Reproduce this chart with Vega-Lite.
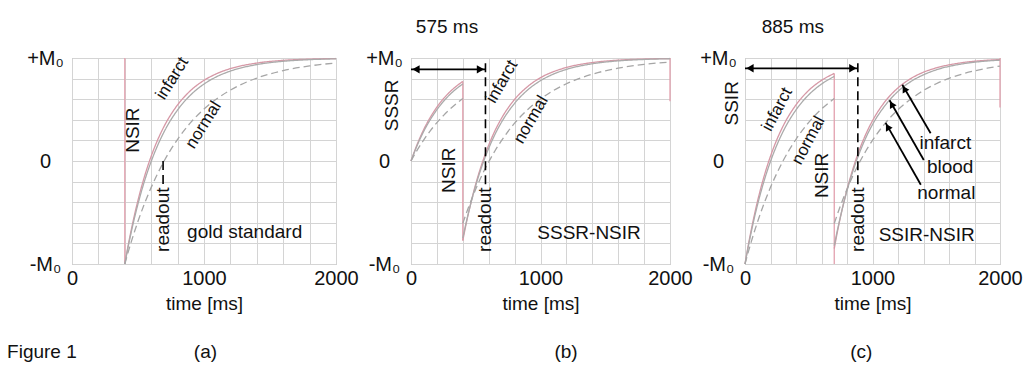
{
  "$schema": "https://vega.github.io/schema/vega-lite/v6.json",
  "background": "white",
  "padding": {"left": 6, "top": 17, "right": 0, "bottom": 0},
  "config": {
    "font": "Liberation Sans",
    "view": {"stroke": "#a8a8a8", "strokeWidth": 1},
    "axis": {"grid": true, "gridColor": "#d4d4d4", "gridWidth": 1, "domain": false, "ticks": false, "labelFontSize": 20, "labelColor": "#111", "titleFontSize": 19, "titleFontWeight": "normal", "titleColor": "#111", "labelFlush": false, "labelOverlap": false},
    "axisX": {"labelPadding": 4, "titlePadding": 6},
    "axisY": {"labelPadding": 27, "labelAlign": "center", "labelBaseline": "middle"}
  },
  "datasets": {
    "curves": [
      {"p":"a","k":"infarct","g":"ai","t":400,"m":-1},{"p":"a","k":"infarct","g":"ai","t":425,"m":-0.823},{"p":"a","k":"infarct","g":"ai","t":450,"m":-0.662},{"p":"a","k":"infarct","g":"ai","t":475,"m":-0.515},{"p":"a","k":"infarct","g":"ai","t":500,"m":-0.381},{"p":"a","k":"infarct","g":"ai","t":550,"m":-0.147},{"p":"a","k":"infarct","g":"ai","t":600,"m":0.047},{"p":"a","k":"infarct","g":"ai","t":650,"m":0.208},{"p":"a","k":"infarct","g":"ai","t":700,"m":0.342},{"p":"a","k":"infarct","g":"ai","t":800,"m":0.545},{"p":"a","k":"infarct","g":"ai","t":900,"m":0.686},{"p":"a","k":"infarct","g":"ai","t":1000,"m":0.783},{"p":"a","k":"infarct","g":"ai","t":1100,"m":0.85},{"p":"a","k":"infarct","g":"ai","t":1200,"m":0.897},{"p":"a","k":"infarct","g":"ai","t":1400,"m":0.951},{"p":"a","k":"infarct","g":"ai","t":1600,"m":0.977},{"p":"a","k":"infarct","g":"ai","t":1800,"m":0.989},{"p":"a","k":"infarct","g":"ai","t":2000,"m":0.995},
      {"p":"a","k":"blood","g":"ab","t":400,"m":-1},{"p":"a","k":"blood","g":"ab","t":425,"m":-0.835},{"p":"a","k":"blood","g":"ab","t":450,"m":-0.684},{"p":"a","k":"blood","g":"ab","t":475,"m":-0.544},{"p":"a","k":"blood","g":"ab","t":500,"m":-0.417},{"p":"a","k":"blood","g":"ab","t":550,"m":-0.192},{"p":"a","k":"blood","g":"ab","t":600,"m":-0.004},{"p":"a","k":"blood","g":"ab","t":650,"m":0.155},{"p":"a","k":"blood","g":"ab","t":700,"m":0.289},{"p":"a","k":"blood","g":"ab","t":800,"m":0.496},{"p":"a","k":"blood","g":"ab","t":900,"m":0.643},{"p":"a","k":"blood","g":"ab","t":1000,"m":0.747},{"p":"a","k":"blood","g":"ab","t":1100,"m":0.821},{"p":"a","k":"blood","g":"ab","t":1200,"m":0.873},{"p":"a","k":"blood","g":"ab","t":1400,"m":0.936},{"p":"a","k":"blood","g":"ab","t":1600,"m":0.968},{"p":"a","k":"blood","g":"ab","t":1800,"m":0.984},{"p":"a","k":"blood","g":"ab","t":2000,"m":0.992},
      {"p":"a","k":"normal","g":"an","t":400,"m":-1},{"p":"a","k":"normal","g":"an","t":425,"m":-0.887},{"p":"a","k":"normal","g":"an","t":450,"m":-0.78},{"p":"a","k":"normal","g":"an","t":475,"m":-0.68},{"p":"a","k":"normal","g":"an","t":500,"m":-0.585},{"p":"a","k":"normal","g":"an","t":550,"m":-0.411},{"p":"a","k":"normal","g":"an","t":600,"m":-0.256},{"p":"a","k":"normal","g":"an","t":650,"m":-0.119},{"p":"a","k":"normal","g":"an","t":700,"m":0.005},{"p":"a","k":"normal","g":"an","t":800,"m":0.211},{"p":"a","k":"normal","g":"an","t":900,"m":0.375},{"p":"a","k":"normal","g":"an","t":1000,"m":0.504},{"p":"a","k":"normal","g":"an","t":1100,"m":0.607},{"p":"a","k":"normal","g":"an","t":1200,"m":0.689},{"p":"a","k":"normal","g":"an","t":1400,"m":0.805},{"p":"a","k":"normal","g":"an","t":1600,"m":0.877},{"p":"a","k":"normal","g":"an","t":1800,"m":0.923},{"p":"a","k":"normal","g":"an","t":2000,"m":0.952},

      {"p":"b","k":"infarct","g":"bi1","t":0,"m":0},{"p":"b","k":"infarct","g":"bi1","t":50,"m":0.169},{"p":"b","k":"infarct","g":"bi1","t":100,"m":0.31},{"p":"b","k":"infarct","g":"bi1","t":150,"m":0.426},{"p":"b","k":"infarct","g":"bi1","t":200,"m":0.523},{"p":"b","k":"infarct","g":"bi1","t":250,"m":0.604},{"p":"b","k":"infarct","g":"bi1","t":300,"m":0.671},{"p":"b","k":"infarct","g":"bi1","t":350,"m":0.726},{"p":"b","k":"infarct","g":"bi1","t":400,"m":0.773},
      {"p":"b","k":"blood","g":"bb1","t":0,"m":0},{"p":"b","k":"blood","g":"bb1","t":50,"m":0.158},{"p":"b","k":"blood","g":"bb1","t":100,"m":0.292},{"p":"b","k":"blood","g":"bb1","t":150,"m":0.404},{"p":"b","k":"blood","g":"bb1","t":200,"m":0.498},{"p":"b","k":"blood","g":"bb1","t":250,"m":0.578},{"p":"b","k":"blood","g":"bb1","t":300,"m":0.645},{"p":"b","k":"blood","g":"bb1","t":350,"m":0.701},{"p":"b","k":"blood","g":"bb1","t":400,"m":0.748},
      {"p":"b","k":"normal","g":"bn1","t":0,"m":0},{"p":"b","k":"normal","g":"bn1","t":50,"m":0.11},{"p":"b","k":"normal","g":"bn1","t":100,"m":0.208},{"p":"b","k":"normal","g":"bn1","t":150,"m":0.295},{"p":"b","k":"normal","g":"bn1","t":200,"m":0.372},{"p":"b","k":"normal","g":"bn1","t":250,"m":0.441},{"p":"b","k":"normal","g":"bn1","t":300,"m":0.502},{"p":"b","k":"normal","g":"bn1","t":350,"m":0.557},{"p":"b","k":"normal","g":"bn1","t":400,"m":0.606},
      {"p":"b","k":"infarct","g":"bi2","t":400,"m":-0.773},{"p":"b","k":"infarct","g":"bi2","t":425,"m":-0.616},{"p":"b","k":"infarct","g":"bi2","t":450,"m":-0.473},{"p":"b","k":"infarct","g":"bi2","t":475,"m":-0.342},{"p":"b","k":"infarct","g":"bi2","t":500,"m":-0.223},{"p":"b","k":"infarct","g":"bi2","t":550,"m":-0.018},{"p":"b","k":"infarct","g":"bi2","t":600,"m":0.154},{"p":"b","k":"infarct","g":"bi2","t":650,"m":0.298},{"p":"b","k":"infarct","g":"bi2","t":700,"m":0.417},{"p":"b","k":"infarct","g":"bi2","t":800,"m":0.598},{"p":"b","k":"infarct","g":"bi2","t":900,"m":0.722},{"p":"b","k":"infarct","g":"bi2","t":1000,"m":0.809},{"p":"b","k":"infarct","g":"bi2","t":1100,"m":0.867},{"p":"b","k":"infarct","g":"bi2","t":1200,"m":0.908},{"p":"b","k":"infarct","g":"bi2","t":1400,"m":0.956},{"p":"b","k":"infarct","g":"bi2","t":1600,"m":0.979},{"p":"b","k":"infarct","g":"bi2","t":1800,"m":0.99},{"p":"b","k":"infarct","g":"bi2","t":2000,"m":0.995},
      {"p":"b","k":"blood","g":"bb2","t":400,"m":-0.748},{"p":"b","k":"blood","g":"bb2","t":425,"m":-0.603},{"p":"b","k":"blood","g":"bb2","t":450,"m":-0.472},{"p":"b","k":"blood","g":"bb2","t":475,"m":-0.349},{"p":"b","k":"blood","g":"bb2","t":500,"m":-0.238},{"p":"b","k":"blood","g":"bb2","t":550,"m":-0.042},{"p":"b","k":"blood","g":"bb2","t":600,"m":0.123},{"p":"b","k":"blood","g":"bb2","t":650,"m":0.262},{"p":"b","k":"blood","g":"bb2","t":700,"m":0.379},{"p":"b","k":"blood","g":"bb2","t":800,"m":0.56},{"p":"b","k":"blood","g":"bb2","t":900,"m":0.689},{"p":"b","k":"blood","g":"bb2","t":1000,"m":0.78},{"p":"b","k":"blood","g":"bb2","t":1100,"m":0.844},{"p":"b","k":"blood","g":"bb2","t":1200,"m":0.889},{"p":"b","k":"blood","g":"bb2","t":1400,"m":0.944},{"p":"b","k":"blood","g":"bb2","t":1600,"m":0.972},{"p":"b","k":"blood","g":"bb2","t":1800,"m":0.986},{"p":"b","k":"blood","g":"bb2","t":2000,"m":0.993},
      {"p":"b","k":"normal","g":"bn2","t":400,"m":-0.606},{"p":"b","k":"normal","g":"bn2","t":425,"m":-0.515},{"p":"b","k":"normal","g":"bn2","t":450,"m":-0.429},{"p":"b","k":"normal","g":"bn2","t":475,"m":-0.349},{"p":"b","k":"normal","g":"bn2","t":500,"m":-0.273},{"p":"b","k":"normal","g":"bn2","t":550,"m":-0.132},{"p":"b","k":"normal","g":"bn2","t":600,"m":-0.009},{"p":"b","k":"normal","g":"bn2","t":650,"m":0.102},{"p":"b","k":"normal","g":"bn2","t":700,"m":0.2},{"p":"b","k":"normal","g":"bn2","t":800,"m":0.367},{"p":"b","k":"normal","g":"bn2","t":900,"m":0.498},{"p":"b","k":"normal","g":"bn2","t":1000,"m":0.602},{"p":"b","k":"normal","g":"bn2","t":1100,"m":0.685},{"p":"b","k":"normal","g":"bn2","t":1200,"m":0.75},{"p":"b","k":"normal","g":"bn2","t":1400,"m":0.843},{"p":"b","k":"normal","g":"bn2","t":1600,"m":0.901},{"p":"b","k":"normal","g":"bn2","t":1800,"m":0.938},{"p":"b","k":"normal","g":"bn2","t":2000,"m":0.961},

      {"p":"c","k":"infarct","g":"ci1","t":0,"m":-1},{"p":"c","k":"infarct","g":"ci1","t":25,"m":-0.823},{"p":"c","k":"infarct","g":"ci1","t":50,"m":-0.662},{"p":"c","k":"infarct","g":"ci1","t":75,"m":-0.515},{"p":"c","k":"infarct","g":"ci1","t":100,"m":-0.381},{"p":"c","k":"infarct","g":"ci1","t":150,"m":-0.147},{"p":"c","k":"infarct","g":"ci1","t":200,"m":0.047},{"p":"c","k":"infarct","g":"ci1","t":250,"m":0.208},{"p":"c","k":"infarct","g":"ci1","t":300,"m":0.342},{"p":"c","k":"infarct","g":"ci1","t":400,"m":0.545},{"p":"c","k":"infarct","g":"ci1","t":500,"m":0.686},{"p":"c","k":"infarct","g":"ci1","t":600,"m":0.783},{"p":"c","k":"infarct","g":"ci1","t":700,"m":0.85},
      {"p":"c","k":"blood","g":"cb1","t":0,"m":-1},{"p":"c","k":"blood","g":"cb1","t":25,"m":-0.835},{"p":"c","k":"blood","g":"cb1","t":50,"m":-0.684},{"p":"c","k":"blood","g":"cb1","t":75,"m":-0.544},{"p":"c","k":"blood","g":"cb1","t":100,"m":-0.417},{"p":"c","k":"blood","g":"cb1","t":150,"m":-0.192},{"p":"c","k":"blood","g":"cb1","t":200,"m":-0.004},{"p":"c","k":"blood","g":"cb1","t":250,"m":0.155},{"p":"c","k":"blood","g":"cb1","t":300,"m":0.289},{"p":"c","k":"blood","g":"cb1","t":400,"m":0.496},{"p":"c","k":"blood","g":"cb1","t":500,"m":0.643},{"p":"c","k":"blood","g":"cb1","t":600,"m":0.747},{"p":"c","k":"blood","g":"cb1","t":700,"m":0.821},
      {"p":"c","k":"normal","g":"cn1","t":0,"m":-1},{"p":"c","k":"normal","g":"cn1","t":25,"m":-0.887},{"p":"c","k":"normal","g":"cn1","t":50,"m":-0.78},{"p":"c","k":"normal","g":"cn1","t":75,"m":-0.68},{"p":"c","k":"normal","g":"cn1","t":100,"m":-0.585},{"p":"c","k":"normal","g":"cn1","t":150,"m":-0.411},{"p":"c","k":"normal","g":"cn1","t":200,"m":-0.256},{"p":"c","k":"normal","g":"cn1","t":250,"m":-0.119},{"p":"c","k":"normal","g":"cn1","t":300,"m":0.005},{"p":"c","k":"normal","g":"cn1","t":400,"m":0.211},{"p":"c","k":"normal","g":"cn1","t":500,"m":0.375},{"p":"c","k":"normal","g":"cn1","t":600,"m":0.504},{"p":"c","k":"normal","g":"cn1","t":700,"m":0.607},
      {"p":"c","k":"infarct","g":"ci2","t":700,"m":-0.85},{"p":"c","k":"infarct","g":"ci2","t":725,"m":-0.686},{"p":"c","k":"infarct","g":"ci2","t":750,"m":-0.537},{"p":"c","k":"infarct","g":"ci2","t":775,"m":-0.4},{"p":"c","k":"infarct","g":"ci2","t":800,"m":-0.277},{"p":"c","k":"infarct","g":"ci2","t":850,"m":-0.062},{"p":"c","k":"infarct","g":"ci2","t":900,"m":0.118},{"p":"c","k":"infarct","g":"ci2","t":950,"m":0.267},{"p":"c","k":"infarct","g":"ci2","t":1000,"m":0.391},{"p":"c","k":"infarct","g":"ci2","t":1100,"m":0.58},{"p":"c","k":"infarct","g":"ci2","t":1200,"m":0.71},{"p":"c","k":"infarct","g":"ci2","t":1300,"m":0.8},{"p":"c","k":"infarct","g":"ci2","t":1400,"m":0.862},{"p":"c","k":"infarct","g":"ci2","t":1500,"m":0.904},{"p":"c","k":"infarct","g":"ci2","t":1700,"m":0.954},{"p":"c","k":"infarct","g":"ci2","t":1900,"m":0.978},{"p":"c","k":"infarct","g":"ci2","t":2000,"m":0.985},
      {"p":"c","k":"blood","g":"cb2","t":700,"m":-0.821},{"p":"c","k":"blood","g":"cb2","t":725,"m":-0.67},{"p":"c","k":"blood","g":"cb2","t":750,"m":-0.533},{"p":"c","k":"blood","g":"cb2","t":775,"m":-0.406},{"p":"c","k":"blood","g":"cb2","t":800,"m":-0.289},{"p":"c","k":"blood","g":"cb2","t":850,"m":-0.085},{"p":"c","k":"blood","g":"cb2","t":900,"m":0.086},{"p":"c","k":"blood","g":"cb2","t":950,"m":0.232},{"p":"c","k":"blood","g":"cb2","t":1000,"m":0.354},{"p":"c","k":"blood","g":"cb2","t":1100,"m":0.541},{"p":"c","k":"blood","g":"cb2","t":1200,"m":0.676},{"p":"c","k":"blood","g":"cb2","t":1300,"m":0.771},{"p":"c","k":"blood","g":"cb2","t":1400,"m":0.837},{"p":"c","k":"blood","g":"cb2","t":1500,"m":0.885},{"p":"c","k":"blood","g":"cb2","t":1700,"m":0.942},{"p":"c","k":"blood","g":"cb2","t":1900,"m":0.971},{"p":"c","k":"blood","g":"cb2","t":2000,"m":0.979},
      {"p":"c","k":"normal","g":"cn2","t":700,"m":-0.607},{"p":"c","k":"normal","g":"cn2","t":725,"m":-0.516},{"p":"c","k":"normal","g":"cn2","t":750,"m":-0.43},{"p":"c","k":"normal","g":"cn2","t":775,"m":-0.35},{"p":"c","k":"normal","g":"cn2","t":800,"m":-0.274},{"p":"c","k":"normal","g":"cn2","t":850,"m":-0.133},{"p":"c","k":"normal","g":"cn2","t":900,"m":-0.009},{"p":"c","k":"normal","g":"cn2","t":950,"m":0.102},{"p":"c","k":"normal","g":"cn2","t":1000,"m":0.2},{"p":"c","k":"normal","g":"cn2","t":1100,"m":0.367},{"p":"c","k":"normal","g":"cn2","t":1200,"m":0.498},{"p":"c","k":"normal","g":"cn2","t":1300,"m":0.601},{"p":"c","k":"normal","g":"cn2","t":1400,"m":0.685},{"p":"c","k":"normal","g":"cn2","t":1500,"m":0.75},{"p":"c","k":"normal","g":"cn2","t":1700,"m":0.843},{"p":"c","k":"normal","g":"cn2","t":1900,"m":0.901},{"p":"c","k":"normal","g":"cn2","t":2000,"m":0.922}
    ],
    "pulses": [
      {"p":"a","t":400,"m":1,"m2":-1},
      {"p":"b","t":400,"m":0.773,"m2":-0.773},
      {"p":"b","t":2000,"m":1,"m2":0.58},
      {"p":"c","t":700,"m":0.85,"m2":-1},
      {"p":"c","t":2000,"m":1,"m2":0.52}
    ],
    "zero": [
      {"p":"a","t":0,"t2":2000},
      {"p":"b","t":0,"t2":2000},
      {"p":"c","t":0,"t2":1325},
      {"p":"c","t":1825,"t2":2000}
    ],
    "readout": [
      {"p":"a","t":690,"m":0,"m2":-0.24},
      {"p":"b","t":575,"m":0.95,"m2":-0.24},
      {"p":"c","t":885,"m":0.95,"m2":-0.24}
    ],
    "arrows": [
      {"p":"b","t":0,"t2":575,"m":0.89,"m2":0.89},
      {"p":"c","t":0,"t2":885,"m":0.9,"m2":0.9},
      {"p":"c","t":1456,"t2":1234,"m":0.27,"m2":0.74},
      {"p":"c","t":1402,"t2":1134,"m":0.01,"m2":0.59},
      {"p":"c","t":1379,"t2":1103,"m":-0.23,"m2":0.37}
    ],
    "heads": [
      {"p":"b","d":"left","t":0,"m":0.89},
      {"p":"b","d":"right","t":575,"m":0.89},
      {"p":"c","d":"left","t":0,"m":0.9},
      {"p":"c","d":"right","t":885,"m":0.9},
      {"p":"c","d":"diag","t":1234,"m":0.74},
      {"p":"c","d":"diag","t":1134,"m":0.59},
      {"p":"c","d":"diag","t":1103,"m":0.37}
    ],
    "labels": [
      {"p":"a","kind":"v","txt":"NSIR","t":464,"m":0.3},
      {"p":"a","kind":"v","txt":"readout","t":690,"m":-0.57},
      {"p":"a","kind":"d","txt":"infarct","t":760,"m":0.8},
      {"p":"a","kind":"d","txt":"normal","t":996,"m":0.35},
      {"p":"a","kind":"h","txt":"gold standard","t":1308,"m":-0.69},
      {"p":"a","kind":"h","txt":"Figure 1","t":-228,"m":-1.85},
      {"p":"a","kind":"h","txt":"(a)","t":1011,"m":-1.85},
      {"p":"b","kind":"v","txt":"SSSR","t":-147,"m":0.54},
      {"p":"b","kind":"v","txt":"NSIR","t":293,"m":-0.09},
      {"p":"b","kind":"v","txt":"readout","t":575,"m":-0.57},
      {"p":"b","kind":"d","txt":"infarct","t":703,"m":0.77},
      {"p":"b","kind":"d","txt":"normal","t":927,"m":0.4},
      {"p":"b","kind":"h","txt":"SSSR-NSIR","t":1375,"m":-0.7},
      {"p":"b","kind":"h","txt":"575 ms","t":278,"m":1.3},
      {"p":"b","kind":"h","txt":"(b)","t":1197,"m":-1.85},
      {"p":"c","kind":"v","txt":"SSIR","t":-100,"m":0.56},
      {"p":"c","kind":"v","txt":"NSIR","t":605,"m":-0.14},
      {"p":"c","kind":"v","txt":"readout","t":885,"m":-0.57},
      {"p":"c","kind":"d","txt":"infarct","t":253,"m":0.5},
      {"p":"c","kind":"d","txt":"normal","t":498,"m":0.2},
      {"p":"c","kind":"h","txt":"SSIR-NSIR","t":1425,"m":-0.72},
      {"p":"c","kind":"h","txt":"885 ms","t":375,"m":1.3},
      {"p":"c","kind":"h","txt":"(c)","t":912,"m":-1.85},
      {"p":"c","kind":"h","txt":"infarct","t":1571,"m":0.17},
      {"p":"c","kind":"h","txt":"blood","t":1609,"m":-0.06},
      {"p":"c","kind":"h","txt":"normal","t":1579,"m":-0.31}
    ]
  },
  "hconcat": [
    {
      "width": 264, "height": 206,
      "encoding": {
        "x": {"field": "t", "type": "quantitative", "scale": {"domain": [0, 2000], "nice": false, "zero": false}, "axis": {"values": [0,200,400,600,800,1000,1200,1400,1600,1800,2000], "labelExpr": "datum.value % 1000 === 0 ? '' + datum.value : ''", "title": "time [ms]"}},
        "y": {"field": "m", "type": "quantitative", "scale": {"domain": [-1, 1], "nice": false}, "axis": {"values": [-1,-0.8,-0.6,-0.4,-0.2,0,0.2,0.4,0.6,0.8,1], "labelExpr": "datum.value === 1 ? '+M₀' : datum.value === -1 ? '-M₀' : datum.value === 0 ? '0' : ''", "title": null}}
      },
      "layer": [
        {"data": {"name": "pulses"}, "transform": [{"filter": "datum.p === 'a'"}], "mark": {"type": "rule", "color": "#e3a0ae", "strokeWidth": 1.3}, "encoding": {"y2": {"field": "m2"}}},
        {"data": {"name": "curves"}, "transform": [{"filter": "datum.p === 'a'"}], "mark": {"type": "line", "strokeWidth": 1.3, "interpolate": "monotone"}, "encoding": {"detail": {"field": "g"}, "color": {"field": "k", "type": "nominal", "scale": {"domain": ["infarct","blood","normal"], "range": ["#d698a6","#ababab","#a6a6a6"]}, "legend": null}, "strokeDash": {"field": "k", "type": "nominal", "scale": {"domain": ["infarct","blood","normal"], "range": [[1,0],[1,0],[7,4]]}, "legend": null}}},
        {"data": {"name": "zero"}, "transform": [{"filter": "datum.p === 'a'"}], "mark": {"type": "rule", "color": "#000", "strokeWidth": 1.6}, "encoding": {"x2": {"field": "t2"}, "y": {"datum": 0}}},
        {"data": {"name": "readout"}, "transform": [{"filter": "datum.p === 'a'"}], "mark": {"type": "rule", "color": "#000", "strokeWidth": 1.6, "strokeDash": [9,5]}, "encoding": {"y2": {"field": "m2"}}},
        {"data": {"name": "labels"}, "transform": [{"filter": "datum.p === 'a' && datum.kind === 'v'"}], "mark": {"type": "text", "angle": 270, "fontSize": 19, "color": "#111", "baseline": "middle", "align": "center"}, "encoding": {"text": {"field": "txt"}}},
        {"data": {"name": "labels"}, "transform": [{"filter": "datum.p === 'a' && datum.kind === 'd'"}], "mark": {"type": "text", "angle": 302, "fontSize": 17, "color": "#111", "baseline": "middle", "align": "center"}, "encoding": {"text": {"field": "txt"}}},
        {"data": {"name": "labels"}, "transform": [{"filter": "datum.p === 'a' && datum.kind === 'h'"}], "mark": {"type": "text", "fontSize": 19, "color": "#111", "baseline": "middle", "align": "center"}, "encoding": {"text": {"field": "txt"}}}
      ]
    },
    {
      "width": 259, "height": 206,
      "encoding": {
        "x": {"field": "t", "type": "quantitative", "scale": {"domain": [0, 2000], "nice": false, "zero": false}, "axis": {"values": [0,200,400,600,800,1000,1200,1400,1600,1800,2000], "labelExpr": "datum.value % 1000 === 0 ? '' + datum.value : ''", "title": "time [ms]"}},
        "y": {"field": "m", "type": "quantitative", "scale": {"domain": [-1, 1], "nice": false}, "axis": {"values": [-1,-0.8,-0.6,-0.4,-0.2,0,0.2,0.4,0.6,0.8,1], "labelExpr": "datum.value === 1 ? '+M₀' : datum.value === -1 ? '-M₀' : datum.value === 0 ? '0' : ''", "title": null}}
      },
      "layer": [
        {"data": {"name": "pulses"}, "transform": [{"filter": "datum.p === 'b'"}], "mark": {"type": "rule", "color": "#e3a0ae", "strokeWidth": 1.3}, "encoding": {"y2": {"field": "m2"}}},
        {"data": {"name": "curves"}, "transform": [{"filter": "datum.p === 'b'"}], "mark": {"type": "line", "strokeWidth": 1.3, "interpolate": "monotone"}, "encoding": {"detail": {"field": "g"}, "color": {"field": "k", "type": "nominal", "scale": {"domain": ["infarct","blood","normal"], "range": ["#d698a6","#ababab","#a6a6a6"]}, "legend": null}, "strokeDash": {"field": "k", "type": "nominal", "scale": {"domain": ["infarct","blood","normal"], "range": [[1,0],[1,0],[7,4]]}, "legend": null}}},
        {"data": {"name": "zero"}, "transform": [{"filter": "datum.p === 'b'"}], "mark": {"type": "rule", "color": "#000", "strokeWidth": 1.6}, "encoding": {"x2": {"field": "t2"}, "y": {"datum": 0}}},
        {"data": {"name": "readout"}, "transform": [{"filter": "datum.p === 'b'"}], "mark": {"type": "rule", "color": "#000", "strokeWidth": 1.6, "strokeDash": [9,5]}, "encoding": {"y2": {"field": "m2"}}},
        {"data": {"name": "arrows"}, "transform": [{"filter": "datum.p === 'b'"}], "mark": {"type": "rule", "color": "#000", "strokeWidth": 1.8}, "encoding": {"x2": {"field": "t2"}, "y2": {"field": "m2"}}},
        {"data": {"name": "heads"}, "transform": [{"filter": "datum.p === 'b' && datum.d === 'left'"}], "mark": {"type": "point", "shape": "triangle-left", "filled": true, "color": "#000", "opacity": 1, "size": 70, "xOffset": 5}},
        {"data": {"name": "heads"}, "transform": [{"filter": "datum.p === 'b' && datum.d === 'right'"}], "mark": {"type": "point", "shape": "triangle-right", "filled": true, "color": "#000", "opacity": 1, "size": 70, "xOffset": -5}},
        {"data": {"name": "labels"}, "transform": [{"filter": "datum.p === 'b' && datum.kind === 'v'"}], "mark": {"type": "text", "angle": 270, "fontSize": 19, "color": "#111", "baseline": "middle", "align": "center"}, "encoding": {"text": {"field": "txt"}}},
        {"data": {"name": "labels"}, "transform": [{"filter": "datum.p === 'b' && datum.kind === 'd'"}], "mark": {"type": "text", "angle": 300, "fontSize": 17, "color": "#111", "baseline": "middle", "align": "center"}, "encoding": {"text": {"field": "txt"}}},
        {"data": {"name": "labels"}, "transform": [{"filter": "datum.p === 'b' && datum.kind === 'h'"}], "mark": {"type": "text", "fontSize": 19, "color": "#111", "baseline": "middle", "align": "center"}, "encoding": {"text": {"field": "txt"}}}
      ]
    },
    {
      "width": 255, "height": 206,
      "encoding": {
        "x": {"field": "t", "type": "quantitative", "scale": {"domain": [0, 2000], "nice": false, "zero": false}, "axis": {"values": [0,200,400,600,800,1000,1200,1400,1600,1800,2000], "labelExpr": "datum.value % 1000 === 0 ? '' + datum.value : ''", "title": "time [ms]"}},
        "y": {"field": "m", "type": "quantitative", "scale": {"domain": [-1, 1], "nice": false}, "axis": {"values": [-1,-0.8,-0.6,-0.4,-0.2,0,0.2,0.4,0.6,0.8,1], "labelExpr": "datum.value === 1 ? '+M₀' : datum.value === -1 ? '-M₀' : datum.value === 0 ? '0' : ''", "title": null}}
      },
      "layer": [
        {"data": {"name": "pulses"}, "transform": [{"filter": "datum.p === 'c'"}], "mark": {"type": "rule", "color": "#e3a0ae", "strokeWidth": 1.3}, "encoding": {"y2": {"field": "m2"}}},
        {"data": {"name": "curves"}, "transform": [{"filter": "datum.p === 'c'"}], "mark": {"type": "line", "strokeWidth": 1.3, "interpolate": "monotone"}, "encoding": {"detail": {"field": "g"}, "color": {"field": "k", "type": "nominal", "scale": {"domain": ["infarct","blood","normal"], "range": ["#d698a6","#ababab","#a6a6a6"]}, "legend": null}, "strokeDash": {"field": "k", "type": "nominal", "scale": {"domain": ["infarct","blood","normal"], "range": [[1,0],[1,0],[7,4]]}, "legend": null}}},
        {"data": {"name": "zero"}, "transform": [{"filter": "datum.p === 'c'"}], "mark": {"type": "rule", "color": "#000", "strokeWidth": 1.6}, "encoding": {"x2": {"field": "t2"}, "y": {"datum": 0}}},
        {"data": {"name": "readout"}, "transform": [{"filter": "datum.p === 'c'"}], "mark": {"type": "rule", "color": "#000", "strokeWidth": 1.6, "strokeDash": [9,5]}, "encoding": {"y2": {"field": "m2"}}},
        {"data": {"name": "arrows"}, "transform": [{"filter": "datum.p === 'c'"}], "mark": {"type": "rule", "color": "#000", "strokeWidth": 1.8}, "encoding": {"x2": {"field": "t2"}, "y2": {"field": "m2"}}},
        {"data": {"name": "heads"}, "transform": [{"filter": "datum.p === 'c' && datum.d === 'left'"}], "mark": {"type": "point", "shape": "triangle-left", "filled": true, "color": "#000", "opacity": 1, "size": 70, "xOffset": 5}},
        {"data": {"name": "heads"}, "transform": [{"filter": "datum.p === 'c' && datum.d === 'right'"}], "mark": {"type": "point", "shape": "triangle-right", "filled": true, "color": "#000", "opacity": 1, "size": 70, "xOffset": -5}},
        {"data": {"name": "heads"}, "transform": [{"filter": "datum.p === 'c' && datum.d === 'diag'"}], "mark": {"type": "point", "shape": "triangle-up", "filled": true, "color": "#000", "opacity": 1, "size": 60, "angle": 330, "xOffset": 2, "yOffset": 4}},
        {"data": {"name": "labels"}, "transform": [{"filter": "datum.p === 'c' && datum.kind === 'v'"}], "mark": {"type": "text", "angle": 270, "fontSize": 19, "color": "#111", "baseline": "middle", "align": "center"}, "encoding": {"text": {"field": "txt"}}},
        {"data": {"name": "labels"}, "transform": [{"filter": "datum.p === 'c' && datum.kind === 'd'"}], "mark": {"type": "text", "angle": 298, "fontSize": 17, "color": "#111", "baseline": "middle", "align": "center"}, "encoding": {"text": {"field": "txt"}}},
        {"data": {"name": "labels"}, "transform": [{"filter": "datum.p === 'c' && datum.kind === 'h'"}], "mark": {"type": "text", "fontSize": 19, "color": "#111", "baseline": "middle", "align": "center"}, "encoding": {"text": {"field": "txt"}}}
      ]
    }
  ],
  "spacing": 75,
  "bounds": "flush"
}
